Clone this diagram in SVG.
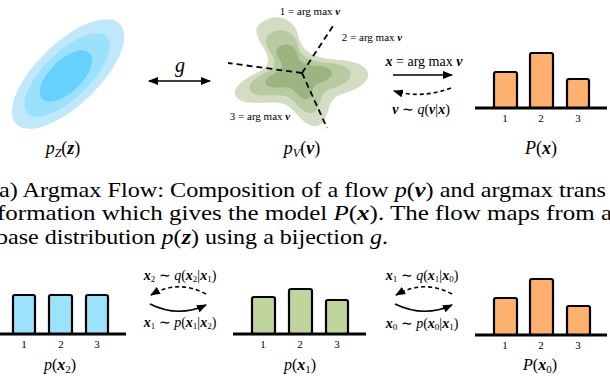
<svg xmlns="http://www.w3.org/2000/svg" width="610" height="376" viewBox="0 0 610 376" style="font-family:'Liberation Serif',serif">
<style>
text, tspan{font-family:'Liberation Serif',serif !important}
.m{font-style:italic}
.b{font-style:italic;font-weight:bold}
.bar{stroke:#000;stroke-width:2.2}
.base{stroke:#000;stroke-width:3}
.conn{fill:none;stroke:#000;stroke-width:1.6}
.dash{stroke-dasharray:4 3}
.ray{fill:none;stroke:#000;stroke-width:1.8;stroke-dasharray:6 4}
</style>
<defs>
<marker id="ah" viewBox="0 0 10 8" refX="9" refY="4" markerWidth="10" markerHeight="8" markerUnits="userSpaceOnUse" orient="auto">
<path d="M0,0 L10,4 L0,8 Z" fill="#000"/>
</marker>
<marker id="ahs" viewBox="0 0 10 8" refX="1" refY="4" markerWidth="10" markerHeight="8" markerUnits="userSpaceOnUse" orient="auto">
<path d="M10,0 L0,4 L10,8 Z" fill="#000"/>
</marker>
</defs>

<g id="pz">
<ellipse cx="68" cy="74" rx="72" ry="31" transform="rotate(-44 68 74)" fill="#bfe8fa"/>
<ellipse cx="67" cy="75" rx="55" ry="23" transform="rotate(-44 67 75)" fill="#9ce1fc"/>
<ellipse cx="66" cy="76" rx="33" ry="16" transform="rotate(-44 66 76)" fill="#66d1fc"/>
<text x="63" y="154" style="font-family:'Liberation Serif',serif;font-size:18px" text-anchor="middle"><tspan class="m">p</tspan><tspan class="m" font-size="12" dy="3">Z</tspan><tspan dy="-3">(</tspan><tspan class="b">z</tspan>)</text>
</g>

<g id="pv">
<path fill="#d2ddc3" d="M262,22 C275,12 295,18 298,35 C302,52 312,58 340,60 C368,62 375,75 362,85 C348,95 335,92 330,105 C326,118 322,132 308,124 C295,116 293,105 280,103 C265,101 245,106 237,98 C229,88 245,78 262,70 C272,63 268,55 262,45 C256,35 253,28 262,22 Z"/>
<path fill="#b8ca9f" transform="translate(295 72) scale(0.76) translate(-295 -72)" d="M262,22 C275,12 295,18 298,35 C302,52 312,58 340,60 C368,62 375,75 362,85 C348,95 335,92 330,105 C326,118 322,132 308,124 C295,116 293,105 280,103 C265,101 245,106 237,98 C229,88 245,78 262,70 C272,63 268,55 262,45 C256,35 253,28 262,22 Z"/>
<path fill="#9cb482" transform="translate(296 72) scale(0.5) translate(-296 -72)" d="M262,22 C275,12 295,18 298,35 C302,52 312,58 340,60 C368,62 375,75 362,85 C348,95 335,92 330,105 C326,118 322,132 308,124 C295,116 293,105 280,103 C265,101 245,106 237,98 C229,88 245,78 262,70 C272,63 268,55 262,45 C256,35 253,28 262,22 Z"/>
<path class="ray" d="M302,73 L335,23 M302,73 L228,63 M302,73 L327,128"/>
<text x="310" y="15" style="font-family:'Liberation Serif',serif;font-size:11px" text-anchor="middle">1 = arg max <tspan class="b">v</tspan></text>
<text x="372" y="41" style="font-family:'Liberation Serif',serif;font-size:11px" text-anchor="middle">2 = arg max <tspan class="b">v</tspan></text>
<text x="260" y="120" style="font-family:'Liberation Serif',serif;font-size:11px" text-anchor="middle">3 = arg max <tspan class="b">v</tspan></text>
<text x="302" y="154" style="font-family:'Liberation Serif',serif;font-size:18px" text-anchor="middle"><tspan class="m">p</tspan><tspan class="m" font-size="12" dy="3">V</tspan><tspan dy="-3">(</tspan><tspan class="b">v</tspan>)</text>
</g>

<g id="px">
<rect class="bar" x="494" y="72" width="23" height="36" rx="2" fill="#feb06e"/>
<rect class="bar" x="530" y="53" width="23" height="55" rx="2" fill="#feb06e"/>
<rect class="bar" x="567" y="79" width="22" height="29" rx="2" fill="#feb06e"/>
<line class="base" x1="475" y1="108" x2="607" y2="108"/>
<text x="505" y="122" style="font-family:'Liberation Serif',serif;font-size:11px" text-anchor="middle">1</text>
<text x="541" y="122" style="font-family:'Liberation Serif',serif;font-size:11px" text-anchor="middle">2</text>
<text x="578" y="122" style="font-family:'Liberation Serif',serif;font-size:11px" text-anchor="middle">3</text>
<text x="541" y="154" style="font-family:'Liberation Serif',serif;font-size:18px" text-anchor="middle"><tspan class="m">P</tspan>(<tspan class="b">x</tspan>)</text>
</g>

<g id="bx2">
<rect class="bar" x="13" y="295" width="22" height="39" rx="2" fill="#9be2fc"/>
<rect class="bar" x="49" y="295" width="23" height="39" rx="2" fill="#9be2fc"/>
<rect class="bar" x="86" y="295" width="22" height="39" rx="2" fill="#9be2fc"/>
<line class="base" x1="0" y1="334" x2="126" y2="334"/>
<text x="24" y="348" style="font-family:'Liberation Serif',serif;font-size:11px" text-anchor="middle">1</text>
<text x="61" y="348" style="font-family:'Liberation Serif',serif;font-size:11px" text-anchor="middle">2</text>
<text x="97" y="348" style="font-family:'Liberation Serif',serif;font-size:11px" text-anchor="middle">3</text>
<text x="60" y="370" style="font-family:'Liberation Serif',serif;font-size:16px" text-anchor="middle"><tspan class="m">p</tspan>(<tspan class="b">x</tspan><tspan font-size="11" dy="3">2</tspan><tspan dy="-3">)</tspan></text>
</g>

<g id="bx1">
<rect class="bar" x="252" y="297" width="23" height="37" rx="2" fill="#bfd59d"/>
<rect class="bar" x="289" y="289" width="23" height="45" rx="2" fill="#bfd59d"/>
<rect class="bar" x="326" y="300" width="22" height="34" rx="2" fill="#bfd59d"/>
<line class="base" x1="233" y1="334" x2="366" y2="334"/>
<text x="263" y="348" style="font-family:'Liberation Serif',serif;font-size:11px" text-anchor="middle">1</text>
<text x="300" y="348" style="font-family:'Liberation Serif',serif;font-size:11px" text-anchor="middle">2</text>
<text x="337" y="348" style="font-family:'Liberation Serif',serif;font-size:11px" text-anchor="middle">3</text>
<text x="300" y="370" style="font-family:'Liberation Serif',serif;font-size:16px" text-anchor="middle"><tspan class="m">p</tspan>(<tspan class="b">x</tspan><tspan font-size="11" dy="3">1</tspan><tspan dy="-3">)</tspan></text>
</g>

<g id="bx0">
<rect class="bar" x="494" y="298" width="23" height="37" rx="2" fill="#feb06e"/>
<rect class="bar" x="530" y="279" width="23" height="56" rx="2" fill="#feb06e"/>
<rect class="bar" x="567" y="306" width="23" height="29" rx="2" fill="#feb06e"/>
<line class="base" x1="475" y1="335" x2="607" y2="335"/>
<text x="505" y="349" style="font-family:'Liberation Serif',serif;font-size:11px" text-anchor="middle">1</text>
<text x="541" y="349" style="font-family:'Liberation Serif',serif;font-size:11px" text-anchor="middle">2</text>
<text x="578" y="349" style="font-family:'Liberation Serif',serif;font-size:11px" text-anchor="middle">3</text>
<text x="540" y="370" style="font-family:'Liberation Serif',serif;font-size:16px" text-anchor="middle"><tspan class="m">P</tspan>(<tspan class="b">x</tspan><tspan font-size="11" dy="3">0</tspan><tspan dy="-3">)</tspan></text>
</g>

<g id="connectors">
<line class="conn" x1="149" y1="81" x2="210" y2="81" marker-start="url(#ahs)" marker-end="url(#ah)"/>
<text x="180" y="72" style="font-family:'Liberation Serif',serif;font-size:20px;font-style:italic" text-anchor="middle">g</text>
<line class="conn" x1="393" y1="75" x2="452" y2="75" marker-end="url(#ah)"/>
<path class="conn dash" d="M451,88 Q422,99 394,91" marker-end="url(#ah)"/>
<text x="424" y="66" style="font-family:'Liberation Serif',serif;font-size:14px" text-anchor="middle"><tspan class="b">x</tspan> = arg max <tspan class="b">v</tspan></text>
<text x="421" y="114" style="font-family:'Liberation Serif',serif;font-size:14px" text-anchor="middle"><tspan class="b">v</tspan> ∼ <tspan class="m">q</tspan>(<tspan class="b">v</tspan>|<tspan class="b">x</tspan>)</text>
<path class="conn dash" d="M206,294 Q178,279 151,295" marker-end="url(#ah)"/>
<path class="conn" d="M150,304 Q178,318 206,305" marker-end="url(#ah)"/>
<text x="180" y="280" style="font-family:'Liberation Serif',serif;font-size:14px" text-anchor="middle"><tspan class="b">x</tspan><tspan font-size="9" dy="2">2</tspan><tspan dy="-2"> ∼ </tspan><tspan class="m">q</tspan>(<tspan class="b">x</tspan><tspan font-size="9" dy="2">2</tspan><tspan dy="-2">|</tspan><tspan class="b">x</tspan><tspan font-size="9" dy="2">1</tspan><tspan dy="-2">)</tspan></text>
<text x="180" y="327" style="font-family:'Liberation Serif',serif;font-size:14px" text-anchor="middle"><tspan class="b">x</tspan><tspan font-size="9" dy="2">1</tspan><tspan dy="-2"> ∼ </tspan><tspan class="m">p</tspan>(<tspan class="b">x</tspan><tspan font-size="9" dy="2">1</tspan><tspan dy="-2">|</tspan><tspan class="b">x</tspan><tspan font-size="9" dy="2">2</tspan><tspan dy="-2">)</tspan></text>
<path class="conn dash" d="M452,294 Q424,279 396,295" marker-end="url(#ah)"/>
<path class="conn" d="M395,304 Q424,318 452,305" marker-end="url(#ah)"/>
<text x="422" y="280" style="font-family:'Liberation Serif',serif;font-size:14px" text-anchor="middle"><tspan class="b">x</tspan><tspan font-size="9" dy="2">1</tspan><tspan dy="-2"> ∼ </tspan><tspan class="m">q</tspan>(<tspan class="b">x</tspan><tspan font-size="9" dy="2">1</tspan><tspan dy="-2">|</tspan><tspan class="b">x</tspan><tspan font-size="9" dy="2">0</tspan><tspan dy="-2">)</tspan></text>
<text x="422" y="328" style="font-family:'Liberation Serif',serif;font-size:14px" text-anchor="middle"><tspan class="b">x</tspan><tspan font-size="9" dy="2">0</tspan><tspan dy="-2"> ∼ </tspan><tspan class="m">p</tspan>(<tspan class="b">x</tspan><tspan font-size="9" dy="2">0</tspan><tspan dy="-2">|</tspan><tspan class="b">x</tspan><tspan font-size="9" dy="2">1</tspan><tspan dy="-2">)</tspan></text>
</g>

<g id="caption">
<text x="-1" y="197" style="font-family:'Liberation Serif',serif;font-size:21px" textLength="607" lengthAdjust="spacingAndGlyphs">a) Argmax Flow: Composition of a flow <tspan class="m">p</tspan>(<tspan class="b">v</tspan>) and argmax trans</text>
<text x="-3" y="220" style="font-family:'Liberation Serif',serif;font-size:21px" textLength="615" lengthAdjust="spacingAndGlyphs">formation which gives the model <tspan class="m">P</tspan>(<tspan class="b">x</tspan>). The flow maps from a</text>
<text x="-4" y="244" style="font-family:'Liberation Serif',serif;font-size:21px" textLength="392" lengthAdjust="spacingAndGlyphs">base distribution <tspan class="m">p</tspan>(<tspan class="b">z</tspan>) using a bijection <tspan class="m">g</tspan>.</text>
</g>
</svg>
